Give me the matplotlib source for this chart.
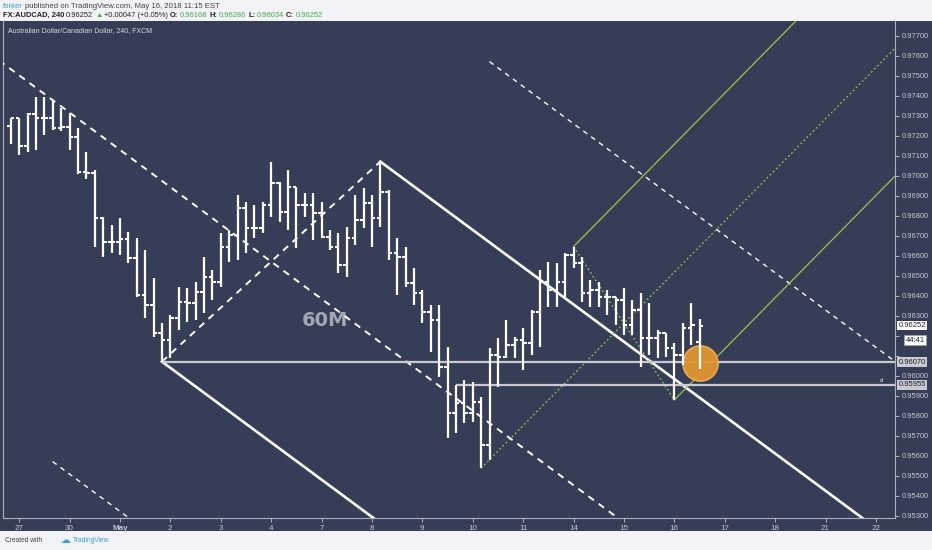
import numpy as np
import matplotlib
matplotlib.use('Agg')
import matplotlib.pyplot as plt
from matplotlib.patches import Rectangle

plt.rcParams['font.family'] = ['Liberation Sans', 'DejaVu Sans']

# 4h bars of FX:AUDCAD
opens = [0.97250, 0.97289, 0.97152, 0.97309, 0.97289, 0.97289, 0.97239, 0.97247, 0.97197, 0.97019,
         0.97014, 0.96789, 0.96672, 0.96672, 0.96685, 0.96589, 0.96405, 0.96355, 0.96214, 0.96180,
         0.96289, 0.96372, 0.96364, 0.96422, 0.96497, 0.96472, 0.96647, 0.96705, 0.96839, 0.96739,
         0.96739, 0.96855, 0.96964, 0.96822, 0.96947, 0.96855, 0.96855, 0.96814, 0.96697, 0.96647,
         0.96555, 0.96689, 0.96780, 0.96864, 0.96789, 0.96922, 0.96614, 0.96597, 0.96464, 0.96414,
         0.96322, 0.96280, 0.96047, 0.95814, 0.95865, 0.95814, 0.95872, 0.95655, 0.96105, 0.96097,
         0.96155, 0.96180, 0.96164, 0.96322, 0.96472, 0.96430, 0.96472, 0.96605, 0.96564, 0.96414,
         0.96430, 0.96397, 0.96397, 0.96380, 0.96255, 0.96330, 0.96189, 0.96189, 0.96214, 0.96139,
         0.96105, 0.96239, 0.96168]
highs = [0.97292, 0.97289, 0.97314, 0.97397, 0.97397, 0.97380, 0.97339, 0.97314, 0.97239, 0.97122,
         0.97030, 0.96797, 0.96755, 0.96789, 0.96722, 0.96689, 0.96630, 0.96492, 0.96264, 0.96305,
         0.96447, 0.96439, 0.96472, 0.96597, 0.96530, 0.96714, 0.96730, 0.96905, 0.96872, 0.96855,
         0.96872, 0.97072, 0.96972, 0.97030, 0.96947, 0.96914, 0.96914, 0.96872, 0.96730, 0.96714,
         0.96747, 0.96905, 0.96939, 0.96905, 0.97072, 0.96930, 0.96689, 0.96647, 0.96539, 0.96430,
         0.96355, 0.96355, 0.96147, 0.95955, 0.95980, 0.95972, 0.95897, 0.96139, 0.96189, 0.96280,
         0.96197, 0.96239, 0.96330, 0.96530, 0.96572, 0.96564, 0.96614, 0.96647, 0.96597, 0.96480,
         0.96472, 0.96430, 0.96397, 0.96439, 0.96380, 0.96414, 0.96364, 0.96230, 0.96214, 0.96164,
         0.96264, 0.96364, 0.96286]
lows = [0.97159, 0.97105, 0.97122, 0.97130, 0.97205, 0.97230, 0.97225, 0.97130, 0.97009, 0.96985,
        0.96647, 0.96597, 0.96614, 0.96605, 0.96564, 0.96397, 0.96289, 0.96197, 0.96072, 0.96089,
        0.96230, 0.96272, 0.96280, 0.96314, 0.96380, 0.96447, 0.96572, 0.96580, 0.96614, 0.96689,
        0.96714, 0.96797, 0.96772, 0.96730, 0.96639, 0.96797, 0.96680, 0.96689, 0.96630, 0.96514,
        0.96497, 0.96655, 0.96739, 0.96647, 0.96747, 0.96580, 0.96405, 0.96447, 0.96355, 0.96264,
        0.96122, 0.95997, 0.95689, 0.95715, 0.95764, 0.95772, 0.95539, 0.95580, 0.95947, 0.96089,
        0.96089, 0.96030, 0.96105, 0.96147, 0.96347, 0.96347, 0.96397, 0.96539, 0.96372, 0.96347,
        0.96347, 0.96305, 0.96255, 0.96205, 0.96205, 0.96047, 0.96105, 0.96089, 0.96097, 0.95880,
        0.96055, 0.96155, 0.96034]
closes = [0.97289, 0.97152, 0.97309, 0.97289, 0.97289, 0.97239, 0.97247, 0.97197, 0.97019, 0.97014,
          0.96789, 0.96672, 0.96672, 0.96685, 0.96589, 0.96405, 0.96355, 0.96214, 0.96180, 0.96289,
          0.96372, 0.96364, 0.96422, 0.96497, 0.96472, 0.96647, 0.96705, 0.96839, 0.96739, 0.96739,
          0.96855, 0.96964, 0.96822, 0.96947, 0.96855, 0.96855, 0.96814, 0.96697, 0.96647, 0.96555,
          0.96689, 0.96780, 0.96864, 0.96789, 0.96922, 0.96614, 0.96597, 0.96464, 0.96414, 0.96322,
          0.96280, 0.96047, 0.95814, 0.95865, 0.95814, 0.95872, 0.95655, 0.96105, 0.96097, 0.96155,
          0.96180, 0.96164, 0.96322, 0.96472, 0.96430, 0.96472, 0.96605, 0.96564, 0.96414, 0.96430,
          0.96397, 0.96397, 0.96380, 0.96255, 0.96330, 0.96189, 0.96189, 0.96214, 0.96139, 0.96105,
          0.96239, 0.96255, 0.96252]

# day labels (first bar of each day)
day_labels = ['27', '30', 'May', '2', '3', '4', '7', '8', '9', '10', '11', '14', '15', '16', '17', '18', '21', '22']
day_pos = [1, 7, 13, 19, 25, 31, 37, 43, 49, 55, 61, 67, 73, 79, 85, 91, 97, 103]

# pitchfork pivots (bar index, price)
white_a = (-5, 0.97690)
white_b = (18, 0.96072)
white_c = (44, 0.97072)
green_a = (56, 0.95539)
green_b = (67, 0.96647)
green_c = (79, 0.95880)

# horizontal levels
level1 = 0.96070
level2 = 0.95955
last_price = 0.96252

W, H = 932, 550
BG = '#363d57'
TXT = '#c5c8d0'
GREEN = '#9cc53f'

fig = plt.figure(figsize=(W / 100, H / 100), dpi=100)
fig.patch.set_facecolor('#f1f3f6')
fig.patches.append(Rectangle((0, 1 - 531 / H), 1, (531 - 21) / H, transform=fig.transFigure,
                             fc=BG, ec='none', zorder=-5))

ax = fig.add_axes([3 / W, 1 - 518 / H, (895 - 3) / W, (518 - 21) / H])
ax.set_zorder(1)
ax.set_facecolor(BG)
ax.set_xlim(-0.917, 105.27)
ax.set_ylim(0.9529, 0.97775)

# OHLC bars
x = np.arange(len(highs))
ax.vlines(x, lows, highs, color='white', lw=1.6, zorder=4)
ax.hlines(opens, x - 0.42, x, color='white', lw=1.5, zorder=4)
ax.hlines(closes, x, x + 0.42, color='white', lw=1.5, zorder=4)

XEND = 115


def ray(p, slope, **kw):
    ax.plot([p[0], XEND], [p[1], p[1] + slope * (XEND - p[0])], **kw)


# white pitchfork
mid = ((white_b[0] + white_c[0]) / 2, (white_b[1] + white_c[1]) / 2)
ws = (mid[1] - white_a[1]) / (mid[0] - white_a[0])
ray(white_a, ws, color='white', lw=1.4, ls=(0, (3.5, 3)), zorder=3)
ray(white_b, ws, color='white', lw=1.9, zorder=3)
ray(white_c, ws, color='white', lw=1.9, zorder=3)
half = ((white_c[0] - white_b[0]) / 2, (white_c[1] - white_b[1]) / 2)
ray((white_c[0] + half[0], white_c[1] + half[1]), ws, color='white', lw=1.0, ls=(0, (3.5, 3.5)), zorder=3)
ray((white_b[0] - half[0], white_b[1] - half[1]), ws, color='white', lw=1.0, ls=(0, (3.5, 3.5)), zorder=3)
ax.plot([white_b[0], white_c[0]], [white_b[1], white_c[1]], color='white', lw=1.4, ls=(0, (3.5, 3)), zorder=3)

# green pitchfork
mid = ((green_b[0] + green_c[0]) / 2, (green_b[1] + green_c[1]) / 2)
gs = (mid[1] - green_a[1]) / (mid[0] - green_a[0])
ray(green_a, gs, color=GREEN, lw=0.9, ls=(0, (1.5, 2)), zorder=3)
ray(green_b, gs, color=GREEN, lw=0.9, zorder=3)
ray(green_c, gs, color=GREEN, lw=0.9, zorder=3)
ax.plot([green_b[0], green_c[0]], [green_b[1], green_c[1]], color=GREEN, lw=0.9, ls=(0, (1.5, 2)), zorder=3)

# horizontal levels
ax.hlines(level1, white_b[0], 105.27, color='#c8cad0', lw=1.6, zorder=3)
ax.hlines(level2, 53, 105.27, color='#c8cad0', lw=1.6, zorder=3)

# highlight circle
ax.scatter([82], [0.96065], s=640, color='#e0952f', edgecolor='#f2ad4e', lw=1.2, alpha=0.95, zorder=3.5)

ax.text(37.4, 0.96280, '60M', color='#a3a7b3', fontsize=14, fontweight='bold',
        family='DejaVu Sans', ha='center', va='center', zorder=2)
ax.text(103.6, 0.95975, 'd', color='white', fontsize=4, ha='center', va='center')

# axes styling
for s in ['left', 'right', 'bottom']:
    ax.spines[s].set_color('#aab0bd')
    ax.spines[s].set_linewidth(0.8)
ax.spines['top'].set_visible(False)
ax.yaxis.tick_right()
yticks = np.arange(0.953, 0.9775, 0.001)
ax.set_yticks(yticks)
# labels hidden behind the price boxes are left blank
ax.set_yticklabels(['' if abs(v - 0.961) < 1e-6 or abs(v - 0.962) < 1e-6 else '%.5f' % v for v in yticks])
ax.tick_params(axis='y', colors=TXT, labelsize=5.5, length=3, width=0.6, pad=2)
ax.set_xticks(day_pos)
ax.set_xticklabels(day_labels)
ax.tick_params(axis='x', colors=TXT, labelsize=5.8, length=3, width=0.6, pad=2)
for lbl in ax.get_xticklabels():
    if lbl.get_text() == 'May':
        lbl.set_fontweight('bold')

# price labels on the scale
yt = ax.get_yaxis_transform()
ax.text(1.004, last_price, '%.5f' % last_price, transform=yt, ha='left', va='center', fontsize=5.5,
        color='#1e222d', bbox=dict(fc='white', ec='none', pad=1.0), zorder=6, clip_on=False)
ax.text(1.012, 0.96180, '44:41', transform=yt, ha='left', va='center', fontsize=5.5,
        color='#1e222d', bbox=dict(fc='white', ec='#9aa0ad', lw=0.5, pad=1.0), zorder=6, clip_on=False)
ax.text(1.004, level1, '%.5f' % level1, transform=yt, ha='left', va='center', fontsize=5.5,
        color='#1e222d', bbox=dict(fc='#c8cad0', ec='none', pad=1.0), zorder=6, clip_on=False)
ax.text(1.004, level2, '%.5f' % level2, transform=yt, ha='left', va='center', fontsize=5.5,
        color='#1e222d', bbox=dict(fc='#c8cad0', ec='none', pad=1.0), zorder=6, clip_on=False)

fig.text(8 / W, 1 - 31 / H, 'Australian Dollar/Canadian Dollar, 240, FXCM', color='#d6d9e0',
         fontsize=5, va='center')

# header rows built piece by piece
renderer = fig.canvas.get_renderer()


def put_row(x0, y0, pieces, size):
    xx = x0
    for text, color, weight in pieces:
        t = fig.text(xx / W, 1 - y0 / H, text, color=color, fontsize=size, fontweight=weight,
                     va='center', ha='left')
        xx += t.get_window_extent(renderer).width + 1.8


put_row(3, 6, [('forker', '#3a9ee0', 'normal'),
               ('published on TradingView.com, May 16, 2018 11:15 EST', '#444444', 'normal')], 5.6)
G = '#3fae49'
D = '#222222'
put_row(3, 15.5, [('FX:AUDCAD, 240', D, 'bold'), ('0.96252', D, 'normal'), ('▲', G, 'normal'),
                  ('+0.00047 (+0.05%)', D, 'normal'), ('O:', D, 'bold'), ('0.96168', G, 'normal'),
                  ('H:', D, 'bold'), ('0.96286', G, 'normal'), ('L:', D, 'bold'), ('0.96034', G, 'normal'),
                  ('C:', D, 'bold'), ('0.96252', G, 'normal')], 5.4)

fig.text(5 / W, 1 - 541 / H, 'Created with', color='#444444', fontsize=4.8, va='center')
fig.text(60 / W, 1 - 540 / H, '☁', color='#3a9ee0', fontsize=7, va='center', family='DejaVu Sans')
fig.text(73 / W, 1 - 541 / H, 'TradingView', color='#3a9ee0', fontsize=4.8, va='center')

fig.savefig('out.png', dpi=100, facecolor=fig.get_facecolor())
